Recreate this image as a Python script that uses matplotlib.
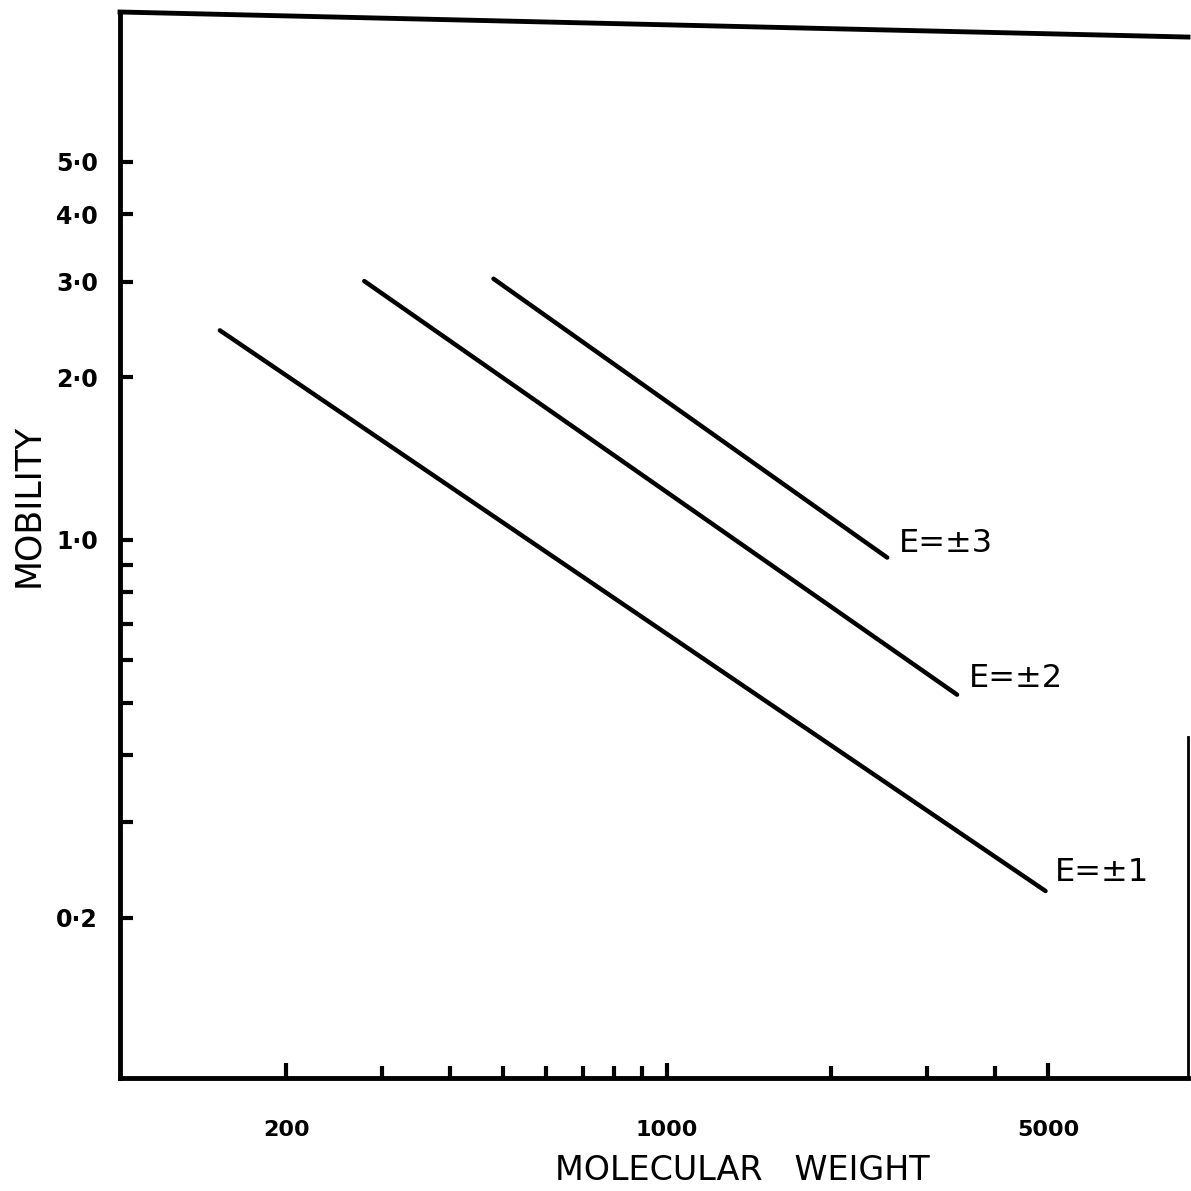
import matplotlib.pyplot as plt
from matplotlib.ticker import FixedLocator, NullFormatter

# molecular weight / mobility end points of the three lines
mw_e1 = [151, 4950]
mob_e1 = [2.44, 0.224]
mw_e2 = [278, 3406]
mob_e2 = [3.01, 0.517]
mw_e3 = [480, 2535]
mob_e3 = [3.04, 0.927]

line_labels = ["E=\u00b11", "E=\u00b12", "E=\u00b13"]
label_pos = [(5150, 0.242), (3580, 0.555), (2660, 0.985)]

x_major = [200, 1000, 5000]
x_major_labels = ["200", "1000", "5000"]
x_minor = [300, 400, 500, 600, 700, 800, 900, 2000, 3000, 4000]
y_major = [0.2, 1.0, 2.0, 3.0, 4.0, 5.0]
y_major_labels = ["0\u00b72", "1\u00b70", "2\u00b70", "3\u00b70", "4\u00b70", "5\u00b70"]
y_minor = [0.3, 0.4, 0.5, 0.6, 0.7, 0.8, 0.9]

plt.rcParams['font.family'] = ['DejaVu Sans']

fig = plt.figure(figsize=(11.91, 11.91), dpi=100)
ax = fig.add_axes([120/1191, 1 - 1078/1191, 1068/1191, 1066/1191])
ax.set_xscale('log')
ax.set_yscale('log')
ax.set_xlim(99, 9040)
ax.set_ylim(0.101, 9.47)

for xs, ys in [(mw_e1, mob_e1), (mw_e2, mob_e2), (mw_e3, mob_e3)]:
    ax.plot(xs, ys, color='black', lw=3.2, solid_capstyle='round')

for txt, (x, y) in zip(line_labels, label_pos):
    ax.text(x, y, txt, fontsize=23, ha='left', va='center')

ax.xaxis.set_major_locator(FixedLocator(x_major))
ax.xaxis.set_minor_locator(FixedLocator(x_minor))
ax.set_xticklabels(x_major_labels)
ax.xaxis.set_minor_formatter(NullFormatter())
ax.yaxis.set_major_locator(FixedLocator(y_major))
ax.yaxis.set_minor_locator(FixedLocator(y_minor))
ax.set_yticklabels(y_major_labels)
ax.yaxis.set_minor_formatter(NullFormatter())

ax.tick_params(which='both', direction='in', width=3, length=9, color='black')
ax.tick_params(axis='x', which='major', length=11, pad=30, labelsize=16)
ax.tick_params(axis='y', which='major', pad=16, labelsize=17)
for lab in ax.get_xticklabels() + ax.get_yticklabels():
    lab.set_fontweight('bold')

for side in ['left', 'bottom']:
    ax.spines[side].set_linewidth(3.5)
ax.spines['top'].set_visible(False)
ax.spines['right'].set_visible(False)
# slanted top edge and partial right edge as in the original drawing
ax.plot([0, 1], [1, 0.9765], transform=ax.transAxes, color='black', lw=3.5, clip_on=False)
ax.plot([1, 1], [0, 0.32], transform=ax.transAxes, color='black', lw=2, clip_on=False)

fig.text(742/1191, 1 - 1170/1191, "MOLECULAR   WEIGHT", fontsize=24, ha='center', va='center')
fig.text(28/1191, 1 - 505/1191, "MOBILITY", fontsize=25, rotation=90, ha='center', va='center')

fig.savefig('out.png', dpi=100, facecolor='white')
